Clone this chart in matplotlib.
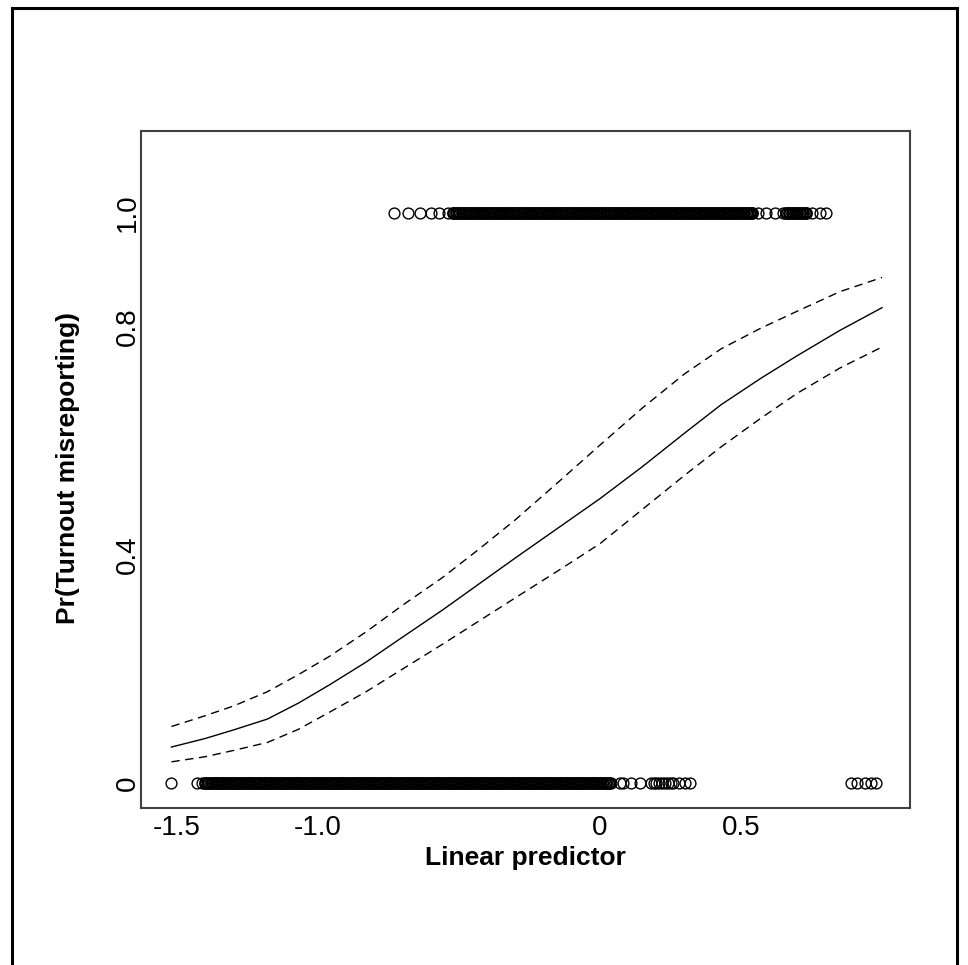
import numpy as np
import matplotlib
matplotlib.use("Agg")
import matplotlib.pyplot as plt
from matplotlib.patches import Rectangle

# Curva ajustada e banda de confiança (preditor linear vs probabilidade)
lp = [-1.52, -1.4, -1.3, -1.18, -1.07, -0.96, -0.83, -0.7, -0.56, -0.43,
      -0.3, -0.15, 0.0, 0.15, 0.3, 0.43, 0.57, 0.7, 0.85, 1.0]
fit = [0.063, 0.078, 0.093, 0.112, 0.14, 0.172, 0.212, 0.256, 0.303, 0.349,
       0.395, 0.447, 0.499, 0.555, 0.614, 0.664, 0.71, 0.75, 0.794, 0.834]
upper = [0.099, 0.118, 0.135, 0.16, 0.19, 0.222, 0.265, 0.312, 0.36, 0.41,
         0.462, 0.527, 0.593, 0.658, 0.718, 0.762, 0.798, 0.828, 0.862, 0.887]
lower = [0.037, 0.046, 0.057, 0.071, 0.094, 0.124, 0.16, 0.2, 0.243, 0.284,
         0.325, 0.372, 0.42, 0.48, 0.54, 0.59, 0.64, 0.684, 0.728, 0.765]

# Observações com y = 0: pontos isolados e faixa densa
obs0_sparse = [-1.52, -1.43, -1.41,
               0.04, 0.07, 0.08, 0.11, 0.14, 0.18, 0.19, 0.20, 0.21, 0.22,
               0.23, 0.24, 0.25, 0.26, 0.28, 0.30, 0.32,
               0.89, 0.91, 0.94, 0.96, 0.98]
obs0_dense = [-1.40, -1.39, -1.38, -1.37, -1.36, -1.35, -1.34, -1.33, -1.32, -1.31,
              -1.30, -1.29, -1.28, -1.27, -1.26, -1.25, -1.24, -1.23, -1.22, -1.21,
              -1.20, -1.19, -1.18, -1.17, -1.16, -1.15, -1.14, -1.13, -1.12, -1.11,
              -1.10, -1.09, -1.08, -1.07, -1.06, -1.05, -1.04, -1.03, -1.02, -1.01,
              -1.00, -0.99, -0.98, -0.97, -0.96, -0.95, -0.94, -0.93, -0.92, -0.91,
              -0.90, -0.89, -0.88, -0.87, -0.86, -0.85, -0.84, -0.83, -0.82, -0.81,
              -0.80, -0.79, -0.78, -0.77, -0.76, -0.75, -0.74, -0.73, -0.72, -0.71,
              -0.70, -0.69, -0.68, -0.67, -0.66, -0.65, -0.64, -0.63, -0.62, -0.61,
              -0.60, -0.59, -0.58, -0.57, -0.56, -0.55, -0.54, -0.53, -0.52, -0.51,
              -0.50, -0.49, -0.48, -0.47, -0.46, -0.45, -0.44, -0.43, -0.42, -0.41,
              -0.40, -0.39, -0.38, -0.37, -0.36, -0.35, -0.34, -0.33, -0.32, -0.31,
              -0.30, -0.29, -0.28, -0.27, -0.26, -0.25, -0.24, -0.23, -0.22, -0.21,
              -0.20, -0.19, -0.18, -0.17, -0.16, -0.15, -0.14, -0.13, -0.12, -0.11,
              -0.10, -0.09, -0.08, -0.07, -0.06, -0.05, -0.04, -0.03, -0.02, -0.01,
              0.00, 0.01, 0.02, 0.03]

# Observações com y = 1 (misreporting)
obs1_sparse = [-0.73, -0.68, -0.64, -0.60, -0.57, -0.54,
               0.56, 0.59, 0.62, 0.65,
               0.75, 0.78, 0.80]
obs1_dense = [-0.52, -0.51,
              -0.50, -0.49, -0.48, -0.47, -0.46, -0.45, -0.44, -0.43, -0.42, -0.41,
              -0.40, -0.39, -0.38, -0.37, -0.36, -0.35, -0.34, -0.33, -0.32, -0.31,
              -0.30, -0.29, -0.28, -0.27, -0.26, -0.25, -0.24, -0.23, -0.22, -0.21,
              -0.20, -0.19, -0.18, -0.17, -0.16, -0.15, -0.14, -0.13, -0.12, -0.11,
              -0.10, -0.09, -0.08, -0.07, -0.06, -0.05, -0.04, -0.03, -0.02, -0.01,
              0.00, 0.01, 0.02, 0.03, 0.04, 0.05, 0.06, 0.07, 0.08, 0.09,
              0.10, 0.11, 0.12, 0.13, 0.14, 0.15, 0.16, 0.17, 0.18, 0.19,
              0.20, 0.21, 0.22, 0.23, 0.24, 0.25, 0.26, 0.27, 0.28, 0.29,
              0.30, 0.31, 0.32, 0.33, 0.34, 0.35, 0.36, 0.37, 0.38, 0.39,
              0.40, 0.41, 0.42, 0.43, 0.44, 0.45, 0.46, 0.47, 0.48, 0.49,
              0.50, 0.51, 0.52, 0.53, 0.54,
              0.66, 0.67, 0.68, 0.69, 0.70, 0.71, 0.72, 0.73]

xticks = [-1.5, -1.0, 0.0, 0.5]
xtick_labels = ['-1.5', '-1.0', '0', '0.5']
yticks = [0.0, 0.4, 0.8, 1.0]
ytick_labels = ['0', '0.4', '0.8', '1.0']

plt.rcParams['font.family'] = ['Liberation Sans', 'DejaVu Sans']

W, H = 968, 965
fig = plt.figure(figsize=(W / 100, H / 100), dpi=100)
fig.patch.set_facecolor('white')

# moldura externa (a borda de baixo fica fora da imagem)
fig.add_artist(Rectangle((12 / W, -20 / H), (957 - 12) / W, (965 + 20 - 8) / H,
                         transform=fig.transFigure, fill=False, lw=2.2, ec='black'))

ax = fig.add_axes([141 / W, 1 - 808 / H, (910 - 141) / W, (808 - 131) / H])

ax.plot(lp, fit, color='black', lw=1.0)
ax.plot(lp, upper, color='black', lw=1.0, dashes=(6, 4))
ax.plot(lp, lower, color='black', lw=1.0, dashes=(6, 4))

# pontos: isolados com traço fino, faixa densa com traço mais grosso p/ ficar preenchida
ax.plot(obs0_sparse, np.zeros(len(obs0_sparse)), 'o', ms=7.8, mfc='none', mec='black', mew=1.0)
ax.plot(obs1_sparse, np.ones(len(obs1_sparse)), 'o', ms=7.8, mfc='none', mec='black', mew=1.0)
ax.plot(obs0_dense, np.zeros(len(obs0_dense)), 'o', ms=7.4, mfc='none', mec='black', mew=1.9)
ax.plot(obs1_dense, np.ones(len(obs1_dense)), 'o', ms=7.4, mfc='none', mec='black', mew=1.9)

ax.set_xlim(-1.628, 1.099)
ax.set_ylim(-0.044, 1.144)
ax.set_xticks(xticks)
ax.set_xticklabels(xtick_labels)
ax.set_yticks(yticks)
ax.set_yticklabels(ytick_labels, rotation=90, va='center')
ax.tick_params(axis='both', length=0, labelsize=20)
ax.tick_params(axis='x', pad=5)
ax.tick_params(axis='y', pad=0)
for s in ax.spines.values():
    s.set_linewidth(1.5)
    s.set_color('#404040')

fig.text(525 / W, 1 - 858 / H, 'Linear predictor', ha='center', va='center',
         fontsize=19, fontweight='bold')
fig.text(68 / W, 1 - 468 / H, 'Pr(Turnout misreporting)', ha='center', va='center',
         rotation=90, fontsize=19, fontweight='bold')

plt.savefig('out.png', dpi=100)
